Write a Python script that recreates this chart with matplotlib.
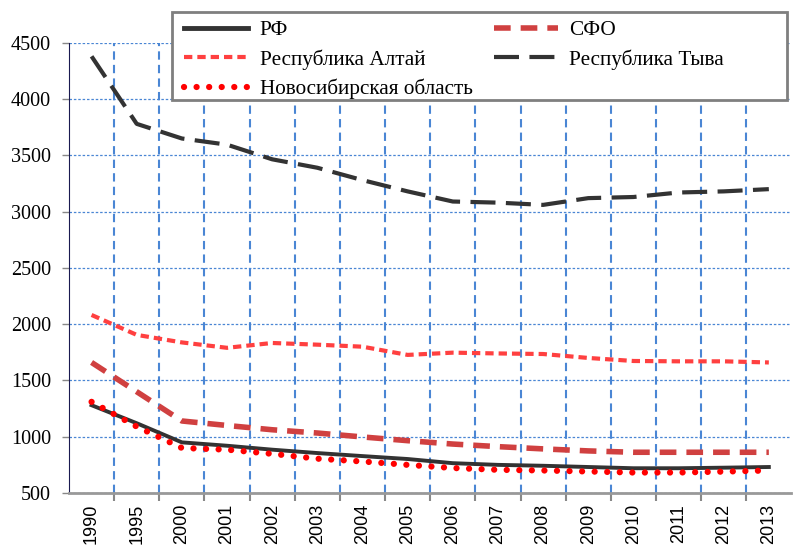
import matplotlib
matplotlib.use("Agg")
import matplotlib.pyplot as plt
from matplotlib.patches import Rectangle
import numpy as np

# years on the category axis
years = ["1990", "1995", "2000", "2001", "2002", "2003", "2004", "2005",
         "2006", "2007", "2008", "2009", "2010", "2011", "2012", "2013"]

rf = [1280, 1120, 950, 920, 885, 855, 828, 802, 765, 750, 742, 731, 720, 720, 725, 731]
sfo = [1660, 1400, 1140, 1100, 1062, 1033, 998, 965, 935, 912, 892, 874, 862, 862, 862, 862]
altai = [2082, 1905, 1838, 1790, 1833, 1818, 1800, 1727, 1747, 1740, 1735, 1700, 1673, 1670, 1670, 1660]
tyva = [4380, 3780, 3650, 3595, 3465, 3390, 3280, 3180, 3090, 3080, 3060, 3120, 3130, 3170, 3180, 3200]
novosib = [1310, 1090, 900, 885, 848, 805, 780, 750, 722, 706, 700, 691, 682, 682, 690, 700]

yticks = [500, 1000, 1500, 2000, 2500, 3000, 3500, 4000, 4500]

plt.rcParams['font.family'] = ['Liberation Serif', 'DejaVu Serif']

fig = plt.figure(figsize=(7.93, 5.49), dpi=100)
ax = fig.add_axes([0.087, 0.102, 0.911, 0.82])

x = np.arange(len(years))

ax.plot(x, rf, color="#333333", lw=2.8, ls="-", label="РФ", zorder=5)
ax.plot(x, altai, color="#ff4040", lw=3, ls=(0, (2, 1.2)), label="Республика Алтай", zorder=5)
ax.plot(x, novosib, color="#ff0000", lw=4.5, ls=(0, (0.01, 2.0)), dash_capstyle="round",
        label="Новосибирская область", zorder=6)
ax.plot(x, sfo, color="#d04040", lw=4, ls=(0, (3, 1.8)), label="СФО", zorder=5)
ax.plot(x, tyva, color="#333333", lw=3, ls=(0, (6, 2.5)), label="Республика Тыва", zorder=5)

ax.set_xlim(-0.5, len(years) - 0.5)
ax.set_ylim(500, 4500)

# category labels at centres, tick marks and gridlines at boundaries
ax.set_xticks(x)
ax.set_xticklabels(years, rotation=90, family=["Liberation Sans"], fontsize=13)
ax.set_xticks(np.arange(0.5, len(years) - 0.5, 1), minor=True)
ax.tick_params(axis="x", which="major", length=0, pad=8)
ax.tick_params(axis="x", which="minor", length=6, width=1.5, color="#888888")
ax.set_yticks(yticks)
ax.set_yticklabels([str(v) for v in yticks], family=["Liberation Serif"], fontsize=14.5)
ax.tick_params(axis="y", length=5, width=1, color="#888888", pad=8)

ax.grid(axis="x", which="minor", color="#4a86d4", ls=(0, (4, 2.5)), lw=1.5)
ax.grid(axis="y", which="major", color="#4a86d4", ls=(0, (2, 1.5)), lw=0.9)
ax.grid(axis="x", which="major", visible=False)

for s in ["top", "right"]:
    ax.spines[s].set_visible(False)
ax.spines["bottom"].set_color("#999999")
ax.spines["bottom"].set_linewidth(2)
ax.spines["left"].set_color("#1a1a50")
ax.spines["left"].set_linewidth(0.8)
ax.spines["left"].set_linestyle((0, (1, 1)))

# legend frame drawn by hand so its box can be wider than the entries
box = Rectangle((172 / 793, 1 - 100 / 549), 615 / 793, 88 / 549, transform=fig.transFigure,
                facecolor="white", edgecolor="#7f7f7f", lw=2, zorder=9)
fig.add_artist(box)
leg = fig.legend(*ax.get_legend_handles_labels(), ncol=2, loc="upper left",
                 bbox_to_anchor=(180 / 793, 1 - 16 / 549),
                 fontsize=15.3, frameon=False,
                 handlelength=3.0, handletextpad=0.55, borderpad=0.2, labelspacing=0.42,
                 columnspacing=1.0, borderaxespad=0)
for h in leg.legend_handles[:1]:
    h.set_linewidth(3.5)
leg.set_zorder(10)

fig.savefig("out.png", dpi=100)
